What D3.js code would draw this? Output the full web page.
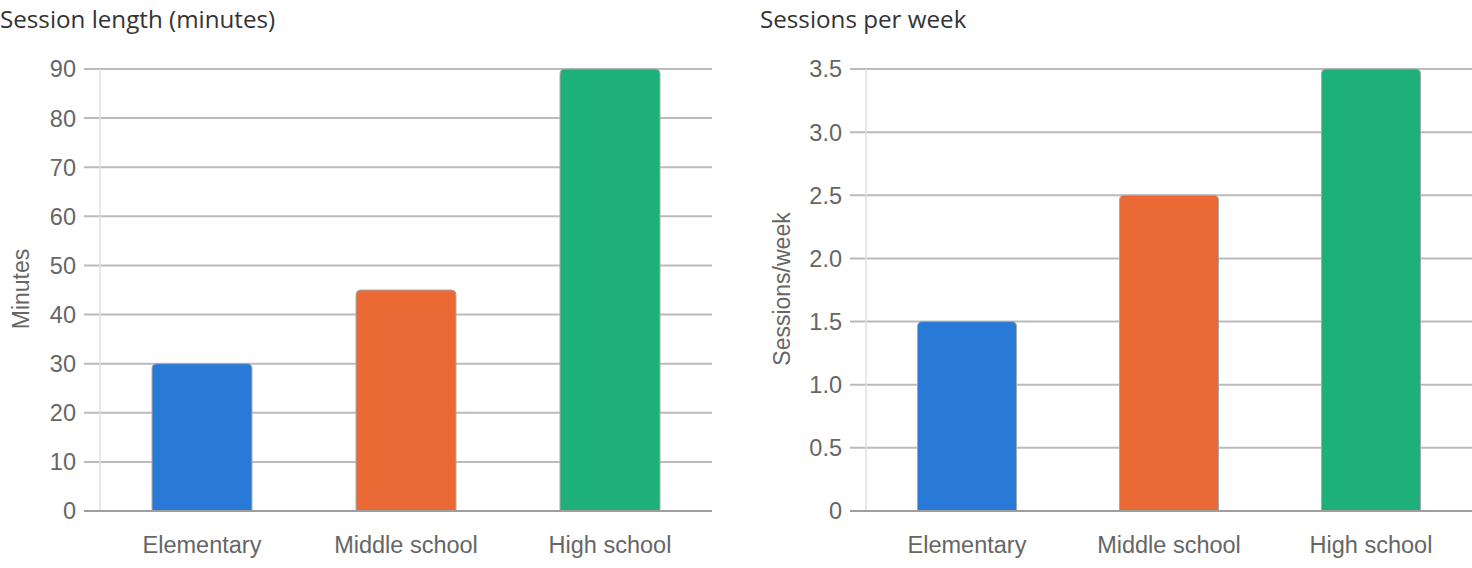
<!DOCTYPE html>
<html><head><meta charset="utf-8">
<script src="https://cdn.jsdelivr.net/npm/d3@7"></script>
<style>
html,body{margin:0;padding:0;background:#fff;}
svg{display:block;}
</style></head>
<body>
<svg id="chart" width="1472" height="568"></svg>
<script>
const categories = ["Elementary", "Middle school", "High school"];
const colors = ["#2979d6", "#ea6935", "#1db07a"];
const sessionLength = [30, 45, 90];
const sessionsPerWeek = [1.5, 2.5, 3.5];
const lengthTicks = [0, 10, 20, 30, 40, 50, 60, 70, 80, 90];
const weekTicks = [0, 0.5, 1.0, 1.5, 2.0, 2.5, 3.0, 3.5];

const svg = d3.select("#chart");
const sans = "'Liberation Sans', Arial, sans-serif";

function panel(opts) {
  const g = svg.append("g");
  const x = d3.scaleBand().domain(categories).range([opts.x0, opts.x1]).paddingInner(0.51).paddingOuter(0.255);
  const y = d3.scaleLinear().domain([0, opts.max]).range([511, 69]);

  g.append("text").attr("x", opts.titleX).attr("y", 28)
    .attr("font-family", "'Open Sans', 'Noto Sans', sans-serif").attr("font-size", 24.2)
    .attr("fill", "#333").text(opts.title);

  // gridlines
  g.selectAll("line.grid").data(opts.ticks).join("line")
    .attr("x1", opts.x0 - 16).attr("x2", opts.x1)
    .attr("y1", d => y(d)).attr("y2", d => y(d))
    .attr("stroke", d => d === 0 ? "#9e9e9e" : "#bbbbbb").attr("stroke-width", 2);

  // vertical axis line
  g.append("line").attr("x1", opts.x0).attr("x2", opts.x0).attr("y1", y(opts.max)).attr("y2", y(0))
    .attr("stroke", "#e0e0e0").attr("stroke-width", 1.5);

  // tick labels
  g.selectAll("text.tick").data(opts.ticks).join("text")
    .attr("x", opts.x0 - 24).attr("y", d => y(d)).attr("dy", "0.36em")
    .attr("text-anchor", "end").attr("font-family", sans)
    .attr("font-size", 23.5).attr("fill", "#666").text(opts.fmt);

  // y title
  g.append("text").attr("transform", `translate(${opts.yTitleX},289) rotate(-90)`)
    .attr("text-anchor", "middle").attr("font-family", sans)
    .attr("font-size", 23).attr("fill", "#666").text(opts.yTitle);

  // bars with rounded top
  const r = 5;
  g.selectAll("path.bar").data(opts.values).join("path")
    .attr("d", (d, i) => {
      const bx = x(categories[i]), bw = x.bandwidth(), top = y(d), bot = y(0);
      return `M${bx},${bot}V${top + r}Q${bx},${top} ${bx + r},${top}H${bx + bw - r}Q${bx + bw},${top} ${bx + bw},${top + r}V${bot}Z`;
    })
    .attr("fill", (d, i) => colors[i]).attr("stroke", "#a8a8a8").attr("stroke-width", 1);

  // redraw baseline over bars
  g.append("line").attr("x1", opts.x0 - 16).attr("x2", opts.x1).attr("y1", y(0)).attr("y2", y(0))
    .attr("stroke", "#9e9e9e").attr("stroke-width", 2);

  // x labels
  g.selectAll("text.xl").data(categories).join("text")
    .attr("x", d => x(d) + x.bandwidth() / 2).attr("y", 553)
    .attr("text-anchor", "middle").attr("font-family", sans)
    .attr("font-size", 23.5).attr("fill", "#666").text(d => d);
}

panel({ x0: 100, x1: 712, max: 90, ticks: lengthTicks, values: sessionLength,
  title: "Session length (minutes)", titleX: 0, yTitle: "Minutes", yTitleX: 29, fmt: d => d3.format("d")(d) });
panel({ x0: 866, x1: 1472, max: 3.5, ticks: weekTicks, values: sessionsPerWeek,
  title: "Sessions per week", titleX: 760, yTitle: "Sessions/week", yTitleX: 790, fmt: d => d === 0 ? "0" : d3.format(".1f")(d) });
</script>
</body></html>
